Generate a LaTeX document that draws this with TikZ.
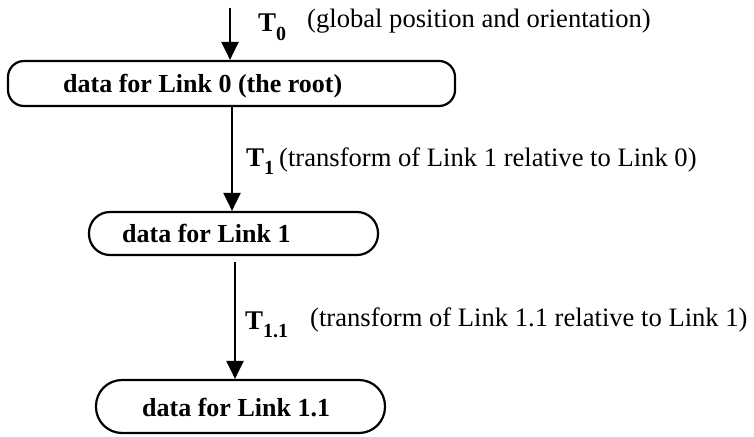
\documentclass[tikz,border=0pt]{standalone}
\usepackage{fontspec}
\setmainfont{Liberation Serif}
\usetikzlibrary{arrows.meta}
\newcommand{\sbx}[1]{\raisebox{-0.3em}{\fontsize{20}{20}\selectfont #1}}
\begin{document}
\begin{tikzpicture}[x=1pt,y=-1pt,
  linkbox/.style={draw, line width=2.2pt, inner sep=0pt},
  boxtext/.style={anchor=base west, inner sep=0pt, font=\fontsize{26}{30}\selectfont\bfseries},
  tlabel/.style={anchor=base west, inner sep=0pt, font=\fontsize{27}{30}\selectfont\bfseries},
  note/.style={anchor=base west, inner sep=0pt, font=\fontsize{26.6}{30}\selectfont},
  arr/.style={line width=2.2pt, -{Triangle[length=18pt,width=17pt]}}]
\useasboundingbox (0,0) rectangle (754,436);

% the three link records
\node[linkbox, minimum width=447pt, minimum height=45pt, rounded corners=16pt] (b0) at (231.5,83.5) {};
\node[linkbox, minimum width=289pt, minimum height=43pt, rounded corners=21pt] (b1) at (233.5,233.5) {};
\node[linkbox, minimum width=289pt, minimum height=53pt, rounded corners=26pt] (b2) at (240.5,406.5) {};

\node[boxtext] (l0) at (63,92) {data for Link 0 (the root)};
\node[boxtext] (l1) at (122,242) {data for Link 1};
\node[boxtext] (l2) at (142,416) {data for Link 1.1};

% transforms between the links
\coordinate (s0) at (230,8);
\coordinate (s1) at (232,106);
\coordinate (s2) at (235,262);
\draw[arr] (s0) -- (s0 |- b0.north);
\draw[arr] (s1) -- (s1 |- b1.north);
\draw[arr] (s2) -- (s2 |- b2.north);

\node[tlabel] (t0) at (258,32) {T\sbx{0}};
\node[note] (n0) at (307,28) {(global position and orientation)};
\node[tlabel] (t1) at (246,166) {T\sbx{1}};
\node[note] (n1) at (279,166) {(transform of Link 1 relative to Link 0)};
\node[tlabel] (t2) at (245,329) {T\sbx{1.1}};
\node[note] (n2) at (310,326) {(transform of Link 1.1 relative to Link 1)};
\end{tikzpicture}
\end{document}
